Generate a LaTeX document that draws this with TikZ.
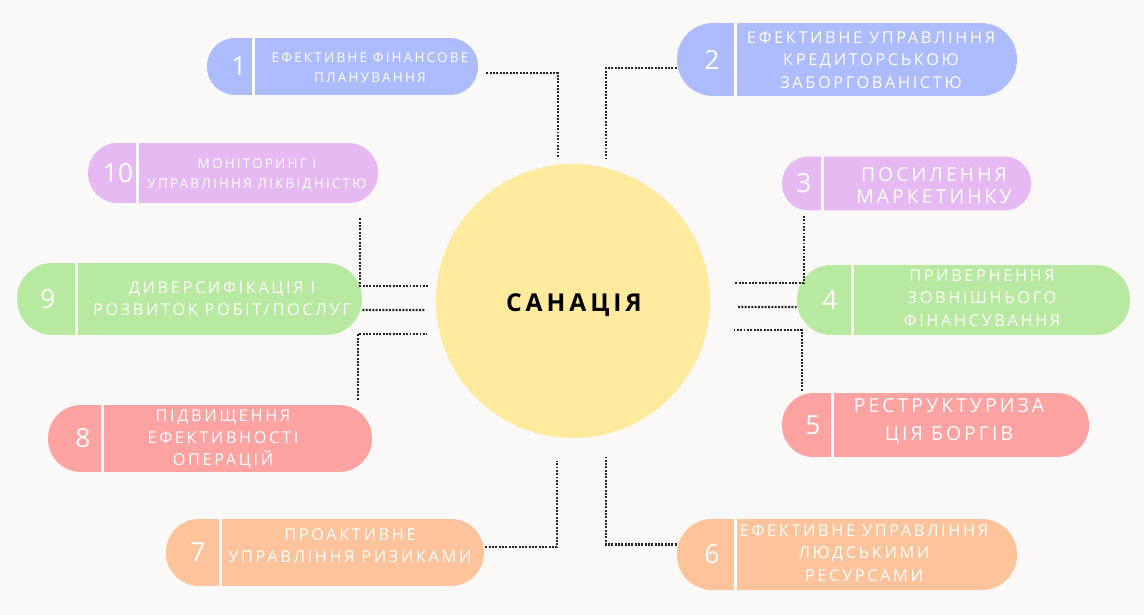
\documentclass[tikz,border=0pt]{standalone}
\usepackage{fontspec}
\setmainfont{Open Sans}
\newfontfamily\spaced[LetterSpace=16]{Open Sans}
\usetikzlibrary{positioning, calc}

\definecolor{cbg}{HTML}{FAF9F7}
\definecolor{cblue}{HTML}{ADBCFF}
\definecolor{cviolet}{HTML}{E6B9F2}
\definecolor{cgreen}{HTML}{B8E9A0}
\definecolor{cpink}{HTML}{FFA2A2}
\definecolor{corange}{HTML}{FFC39B}
\definecolor{cyellow}{HTML}{FFEA9E}

\tikzset{
    pill/.style={rounded corners=#1, inner sep=0pt},
    sepline/.style={white, line width=1.7pt},
    num/.style={white, font=\fontsize{15}{15}\selectfont},
    lbl/.style={white, align=center, inner sep=0pt},
    small/.style={font=\spaced\fontsize{7.7}{11.3}\selectfont},
    mid/.style={font=\spaced\fontsize{9.3}{12.7}\selectfont},
    big/.style={font=\spaced\fontsize{11}{12.5}\selectfont},
    dots/.style={black!85, line width=1.2pt, dash pattern=on 1.1pt off 0.8pt}
}

\begin{document}
\begin{tikzpicture}[x=0.02cm, y=-0.02cm]
    \fill[cbg] (0,0) rectangle (1144,615);
    \useasboundingbox (0,0) rectangle (1144,615);

    \node[circle, fill=cyellow, minimum size=5.48cm, inner sep=0pt] (c) at (573,301) {};
    \node[font=\spaced\bfseries\fontsize{14}{14}\selectfont] (title) at (574,305) {САНАЦІЯ};

    % boxes
    \node[pill=0.56cm, fill=cblue, minimum width=5.42cm, minimum height=1.14cm] (b1) at (342.5,66.5) {};
    \draw[sepline] ([xshift=0.94cm]b1.north west) -- ([xshift=0.94cm]b1.south west);
    \node[num] (n1) at (239,66.5) {1};
    \node[lbl, small] (t1) at (370,68) {ЕФЕКТИВНЕ ФІНАНСОВЕ\\ПЛАНУВАННЯ};

    \node[pill=0.72cm, fill=cblue, minimum width=6.8cm, minimum height=1.46cm] (b2) at (847,59.5) {};
    \draw[sepline] ([xshift=1.18cm]b2.north west) -- ([xshift=1.18cm]b2.south west);
    \node[num] (n2) at (712,59.5) {2};
    \node[lbl, mid] (t2) at (871,60) {ЕФЕКТИВНЕ УПРАВЛІННЯ\\КРЕДИТОРСЬКОЮ\\ЗАБОРГОВАНІСТЮ};

    \node[pill=0.59cm, fill=cviolet, minimum width=5.8cm, minimum height=1.2cm] (b10) at (233,173) {};
    \draw[sepline] ([xshift=1.0cm]b10.north west) -- ([xshift=1.0cm]b10.south west);
    \node[num] (n10) at (118,173) {10};
    \node[lbl, small] (t10) at (257,175) {МОНІТОРИНГ І\\УПРАВЛІННЯ ЛІКВІДНІСТЮ};

    \node[pill=0.53cm, fill=cviolet, minimum width=4.98cm, minimum height=1.08cm] (b3) at (906.5,183.5) {};
    \draw[sepline] ([xshift=0.82cm]b3.north west) -- ([xshift=0.82cm]b3.south west);
    \node[num] (n3) at (804,183.5) {3};
    \node[lbl, big] (t3) at (934,186) {ПОСИЛЕННЯ\\МАРКЕТИНКУ};

    \node[pill=0.71cm, fill=cgreen, minimum width=6.9cm, minimum height=1.44cm] (b9) at (189.5,299) {};
    \draw[sepline] ([xshift=1.2cm]b9.north west) -- ([xshift=1.2cm]b9.south west);
    \node[num] (n9) at (48,299) {9};
    \node[lbl, mid] (t9) at (222,298.5) {ДИВЕРСИФІКАЦІЯ І\\РОЗВИТОК РОБІТ/ПОСЛУГ};

    \node[pill=0.69cm, fill=cgreen, minimum width=6.66cm, minimum height=1.4cm] (b4) at (963.5,300) {};
    \draw[sepline] ([xshift=1.12cm]b4.north west) -- ([xshift=1.12cm]b4.south west);
    \node[num] (n4) at (830,300) {4};
    \node[lbl, mid] (t4) at (982,298) {ПРИВЕРНЕННЯ\\ЗОВНІШНЬОГО\\ФІНАНСУВАННЯ};

    \node[pill=0.66cm, fill=cpink, minimum width=6.48cm, minimum height=1.34cm] (b8) at (210,438.5) {};
    \draw[sepline] ([xshift=1.1cm]b8.north west) -- ([xshift=1.1cm]b8.south west);
    \node[num] (n8) at (83,438.5) {8};
    \node[lbl, mid] (t8) at (223,439) {ПІДВИЩЕННЯ\\ЕФЕКТИВНОСТІ\\ОПЕРАЦІЙ};

    \node[pill=0.63cm, fill=cpink, minimum width=6.14cm, minimum height=1.28cm] (b5) at (935.5,425) {};
    \draw[sepline] ([xshift=1.02cm]b5.north west) -- ([xshift=1.02cm]b5.south west);
    \node[num] (n5) at (813,425) {5};
    \node[lbl, font=\spaced\fontsize{11}{16}\selectfont] (t5) at (949,421) {РЕСТРУКТУРИЗА\\ЦІЯ БОРГІВ};

    \node[pill=0.66cm, fill=corange, minimum width=6.36cm, minimum height=1.34cm] (b7) at (325,552.5) {};
    \draw[sepline] ([xshift=1.1cm]b7.north west) -- ([xshift=1.1cm]b7.south west);
    \node[num] (n7) at (198,552.5) {7};
    \node[lbl, mid] (t7) at (350,545.5) {ПРОАКТИВНЕ\\УПРАВЛІННЯ РИЗИКАМИ};

    \node[pill=0.7cm, fill=corange, minimum width=6.8cm, minimum height=1.42cm] (b6) at (847,554.5) {};
    \draw[sepline] ([xshift=1.18cm]b6.north west) -- ([xshift=1.18cm]b6.south west);
    \node[num] (n6) at (712,554.5) {6};
    \node[lbl, mid] (t6) at (864,553) {ЕФЕКТИВНЕ УПРАВЛІННЯ\\ЛЮДСЬКИМИ\\РЕСУРСАМИ};

    % connectors
    \coordinate (k1) at (558,158);
    \coordinate (k2) at (606,158);
    \coordinate (k10) at (429,286);
    \coordinate (k9) at (425,310);
    \coordinate (k8) at (427,334);
    \coordinate (k3) at (735,283);
    \coordinate (k4) at (737,307);
    \coordinate (k5) at (733,330);
    \coordinate (k7) at (557,461);
    \coordinate (k6) at (606,457);
    \draw[dots] ([shift={(0.16cm,-0.13cm)}]b1.east) -| (k1);
    \draw[dots] ([yshift=-0.17cm]b2.west) -| (k2);
    \draw[dots] ([shift={(-0.36cm,-0.3cm)}]b10.south east) |- (k10);
    \draw[dots] ([yshift=-0.22cm]b9.east) -- (k9);
    \draw[dots] ([shift={(-0.28cm,0.1cm)}]b8.north east) |- (k8);
    \draw[dots] ([shift={(0.44cm,-0.1cm)}]b3.south west) |- (k3);
    \draw[dots] ([yshift=-0.14cm]b4.west) -- (k4);
    \draw[dots] ([shift={(0.4cm,0.04cm)}]b5.north west) |- (k5);
    \draw[dots] ([shift={(0.02cm,0.11cm)}]b7.east) -| (k7);
    \draw[dots] ([yshift=0.2cm]b6.west) -| (k6);
\end{tikzpicture}
\end{document}
